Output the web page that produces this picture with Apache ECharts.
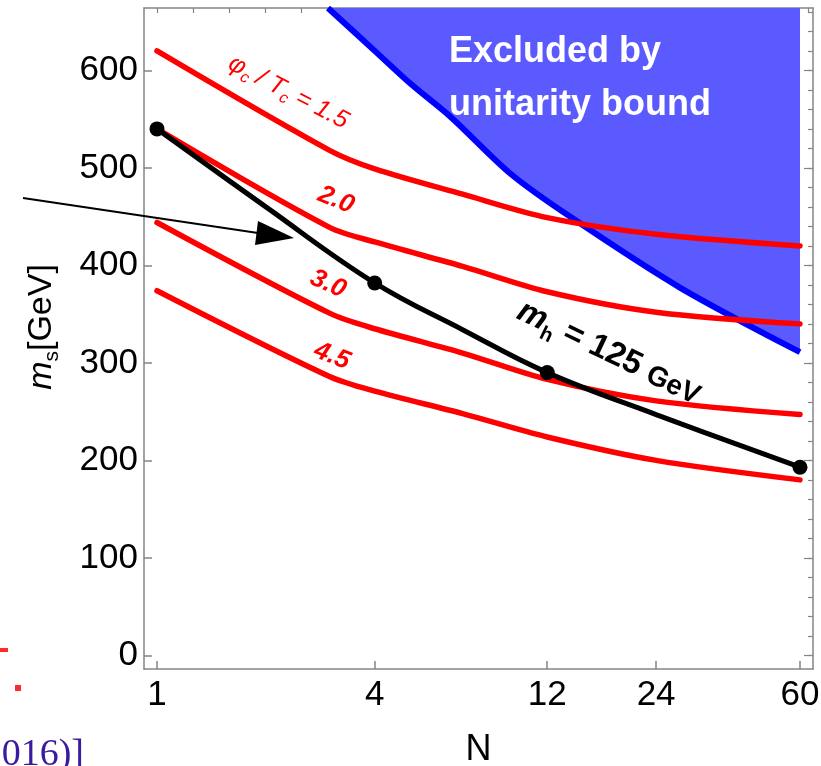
<!DOCTYPE html>
<html><head><meta charset="utf-8">
<script src="https://cdn.jsdelivr.net/npm/echarts@6/dist/echarts.min.js"></script>
<style>html,body{margin:0;padding:0;background:#fff;overflow:hidden}#c{width:821px;height:766px}</style>
</head><body><div id="c"></div>
<script>
// ---- data ----
const xTickValues = [1, 4, 12, 24, 60];
const yTickValues = [0, 100, 200, 300, 400, 500, 600];
const yMinorTickValues = [0, 20, 40, 60, 80, 100, 120, 140, 160, 180, 200, 220, 240, 260, 280, 300, 320, 340, 360, 380, 400, 420, 440, 460, 480, 500, 520, 540, 560, 580, 600, 620, 640, 660];
const topTickDecades = [0, 0.1, 0.2, 0.3, 0.4, 0.5, 0.6, 0.7, 0.8, 0.9, 1.0, 1.1, 1.2, 1.3, 1.4, 1.5, 1.6, 1.7, 1.8];

const nRed = [1, 3, 4, 7, 12, 24, 60];
const red15 = [620, 518, 499, 473, 449, 432, 420];
const red20 = [540, 439, 424, 399, 373, 352, 340];
const red30 = [444, 351, 335, 310, 283, 261, 247];
const red45 = [374, 286, 271, 248, 224, 200, 180];

const nHiggs = [1, 2, 4, 7, 12, 24, 60];
const higgs125 = [540, 460, 382, 334, 290, 247, 193];
const nDots = [1, 4, 12, 60];
const dots125 = [540, 382, 290, 193];

const nBound = [2.97, 4, 5, 6.5, 9.5, 14, 28, 60];
const unitarity = [664, 620, 587, 552, 494, 449, 377, 311];

const zip = (xs, ys) => xs.map((x, i) => [x, ys[i]]);

// ---- chart ----
const FONT = "'Liberation Sans', Arial, Helvetica, sans-serif";
const xMin = 0.9205, xMax = 65.18;
const yMin = -14, yMax = 664;
const gray = '#858585';

const chart = echarts.init(document.getElementById('c'), null, {renderer: 'canvas'});

const redLine = (data, name) => ({
  type: 'line', name, data, xAxisIndex: 0, yAxisIndex: 0,
  showSymbol: false, symbol: 'none', smooth: 0.3, z: 4,
  lineStyle: {color: '#ff0000', width: 5.5, cap: 'round', join: 'round'}
});

const option = {
  animation: false,
  backgroundColor: '#ffffff',
  grid: {left: 144, right: 8, top: 8, bottom: 97, containLabel: false, outerBoundsMode: 'none'},
  xAxis: [
    {
      type: 'log', logBase: 10, min: xMin, max: xMax, position: 'bottom',
      name: 'N', nameLocation: 'middle', nameGap: 63,
      nameTextStyle: {fontFamily: FONT, fontSize: 36, color: '#000'},
      axisLine: {show: true, onZero: false, lineStyle: {color: gray, width: 1.5}},
      axisTick: {show: true, inside: true, length: 8, customValues: xTickValues, lineStyle: {color: gray, width: 1.5}},
      axisLabel: {show: true, customValues: xTickValues, formatter: v => String(Math.round(v)),
        fontFamily: FONT, fontSize: 35, color: '#000', margin: 9},
      splitLine: {show: false}, minorTick: {show: false}
    },
    {
      type: 'value', min: Math.log10(xMin), max: Math.log10(xMax), position: 'top',
      axisLine: {show: true, onZero: false, lineStyle: {color: gray, width: 1.5}},
      axisTick: {show: true, inside: true, length: 5, customValues: topTickDecades, lineStyle: {color: gray, width: 1.2}},
      axisLabel: {show: false}, splitLine: {show: false}
    }
  ],
  yAxis: [
    {
      type: 'value', min: yMin, max: yMax, position: 'left',
      name: '{m|m}{s|s}{g|[GeV]}', nameLocation: 'middle', nameRotate: 90, nameGap: 81,
      nameTextStyle: {fontFamily: FONT, fontSize: 34, color: '#000', padding: [0, 0, 0, 23],
        rich: {
          m: {fontFamily: FONT, fontSize: 34, fontStyle: 'italic', color: '#000', verticalAlign: 'bottom', lineHeight: 34, padding: [0, 0, 4, 0]},
          s: {fontFamily: FONT, fontSize: 21, color: '#000', verticalAlign: 'bottom', lineHeight: 21},
          g: {fontFamily: FONT, fontSize: 34, color: '#000', verticalAlign: 'bottom', lineHeight: 34, padding: [0, 0, 4, 0]}
        }},
      axisLine: {show: true, onZero: false, lineStyle: {color: gray, width: 1.5}},
      axisTick: {show: true, inside: true, length: 8, customValues: yTickValues, lineStyle: {color: gray, width: 1.5}},
      axisLabel: {show: true, customValues: yTickValues, fontFamily: FONT, fontSize: 35, color: '#000', margin: 6},
      splitLine: {show: false}
    },
    {
      type: 'value', min: yMin, max: yMax, position: 'right',
      axisLine: {show: true, onZero: false, lineStyle: {color: gray, width: 1.5}},
      axisTick: {show: true, inside: true, length: 5, customValues: yMinorTickValues, lineStyle: {color: gray, width: 1.2}},
      axisLabel: {show: false}, splitLine: {show: false}
    },
    {
      type: 'value', min: yMin, max: yMax, position: 'right',
      axisLine: {show: false, onZero: false},
      axisTick: {show: true, inside: true, length: 9, customValues: yTickValues, lineStyle: {color: gray, width: 1.2}},
      axisLabel: {show: false}, splitLine: {show: false}
    }
  ],
  series: [
    {
      type: 'line', name: 'unitarity', data: zip(nBound, unitarity),
      showSymbol: false, symbol: 'none', smooth: 0.3, z: 2,
      lineStyle: {color: '#0000ff', width: 6},
      areaStyle: {color: '#5a5aff', opacity: 1, origin: 'end'}
    },
    redLine(zip(nRed, red15), '1.5'),
    redLine(zip(nRed, red20), '2.0'),
    redLine(zip(nRed, red30), '3.0'),
    redLine(zip(nRed, red45), '4.5'),
    {
      type: 'line', name: 'mh125', data: zip(nHiggs, higgs125),
      showSymbol: false, symbol: 'none', smooth: 0.4, z: 5,
      lineStyle: {color: '#000000', width: 5, cap: 'round'}
    },
    {
      type: 'scatter', name: 'points', data: zip(nDots, dots125),
      symbol: 'circle', symbolSize: 15, z: 6,
      itemStyle: {color: '#000000', opacity: 1, borderWidth: 0}
    }
  ],
  graphic: [
    {type: 'text', x: 449, y: 26, z: 10, style: {
      text: 'Excluded by\nunitarity bound', fill: '#ffffff', fontFamily: FONT, fontWeight: 'bold',
      fontSize: 36, lineHeight: 53, align: 'left', verticalAlign: 'top'}},
    {type: 'text', x: 287, y: 95, rotation: -27.5 * Math.PI / 180, z: 10, style: {
      text: '{a|φ}{s|c}{a| / T}{s|c}{a| = 1.5}', align: 'center', verticalAlign: 'middle',
      rich: {
        a: {fill: '#ff0000', fontFamily: FONT, fontStyle: 'italic', fontSize: 25, lineHeight: 25, verticalAlign: 'bottom', padding: [0, 0, 3, 0]},
        s: {fill: '#ff0000', fontFamily: FONT, fontStyle: 'italic', fontSize: 16, lineHeight: 16, verticalAlign: 'bottom'}
      }}},
    {type: 'text', x: 336, y: 200, rotation: -22 * Math.PI / 180, z: 10, style: {
      text: '2.0', fill: '#ff0000', fontFamily: FONT, fontWeight: 'bold', fontStyle: 'italic', fontSize: 26, align: 'center', verticalAlign: 'middle'}},
    {type: 'text', x: 328, y: 284, rotation: -24 * Math.PI / 180, z: 10, style: {
      text: '3.0', fill: '#ff0000', fontFamily: FONT, fontWeight: 'bold', fontStyle: 'italic', fontSize: 26, align: 'center', verticalAlign: 'middle'}},
    {type: 'text', x: 332, y: 356, rotation: -22 * Math.PI / 180, z: 10, style: {
      text: '4.5', fill: '#ff0000', fontFamily: FONT, fontWeight: 'bold', fontStyle: 'italic', fontSize: 26, align: 'center', verticalAlign: 'middle'}},
    {type: 'text', x: 607, y: 357, rotation: -25.5 * Math.PI / 180, z: 10, style: {
      text: '{m|m}{h|h}{t| = 125 }{g|GeV}', align: 'center', verticalAlign: 'middle',
      rich: {
        m: {fill: '#000', fontFamily: FONT, fontStyle: 'italic', fontWeight: 'bold', fontSize: 33, lineHeight: 33, verticalAlign: 'bottom', padding: [0, 0, 5, 0]},
        h: {fill: '#000', fontFamily: FONT, fontWeight: 'bold', fontSize: 20, lineHeight: 20, verticalAlign: 'bottom'},
        t: {fill: '#000', fontFamily: FONT, fontWeight: 'bold', fontSize: 33, lineHeight: 33, verticalAlign: 'bottom', padding: [0, 0, 5, 0]},
        g: {fill: '#000', fontFamily: FONT, fontWeight: 'bold', fontSize: 28, lineHeight: 28, verticalAlign: 'bottom', padding: [0, 0, 5, 0]}
      }}},
    // arrow annotation pointing at the m_h curve
    {type: 'line', z: 10, shape: {x1: 23, y1: 198, x2: 258, y2: 233}, style: {stroke: '#000', lineWidth: 2}},
    {type: 'polygon', z: 10, shape: {points: [[294, 238], [258, 221], [255, 245]]}, style: {fill: '#000'}},
    // fragments of the surrounding slide
    {type: 'rect', z: 10, shape: {x: 0, y: 648, width: 8, height: 4}, style: {fill: '#ff2a2a'}},
    {type: 'rect', z: 10, shape: {x: 15, y: 685, width: 6, height: 6}, style: {fill: '#ff2a2a'}},
    {type: 'text', x: -30, y: 736, z: 10, style: {
      text: '(2016)]', fill: '#3a1a9e', fontFamily: "'Liberation Serif', 'Times New Roman', serif", fontSize: 38, align: 'left', verticalAlign: 'top'}}
  ]
};
chart.setOption(option);
</script></body></html>
